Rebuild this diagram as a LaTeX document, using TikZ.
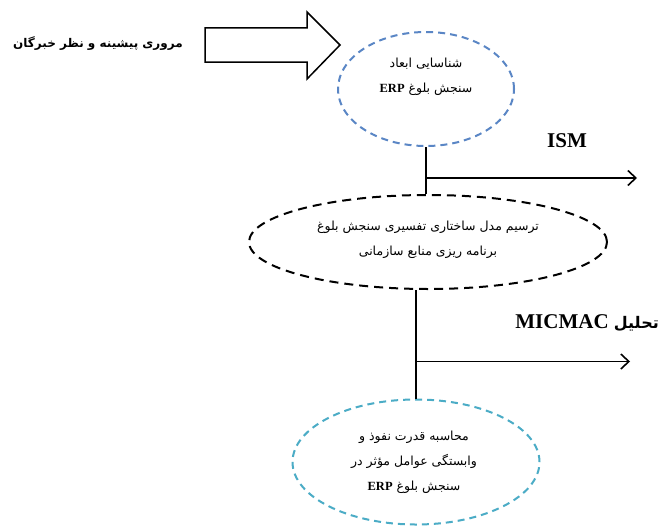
\documentclass[tikz,border=0pt]{standalone}
\usepackage{fontspec}
\setmainfont{Liberation Serif}
\newfontfamily\fa[Script=Arabic]{DejaVu Sans}
\TeXXeTstate=1
\usetikzlibrary{shapes.geometric,arrows.meta}
\definecolor{ellblue}{HTML}{5A86C5}
\definecolor{ellaqua}{HTML}{4BACC6}
\begin{document}
\begin{tikzpicture}[x=1pt,y=-1pt,
  lbl/.style={font=\fa\fontsize{12.5}{25}\selectfont, align=center, inner sep=0pt},
  ell/.style={ellipse, draw, line width=2pt, dash pattern=on 7pt off 5pt, inner sep=0pt},
  conn/.style={line width=1.6pt},
  arr/.style={conn, -{Straight Barb[length=8pt,width=15pt,line width=1.6pt]}},
  big/.style={font=\bfseries\fontsize{21}{23}\selectfont, inner sep=0pt}]
\useasboundingbox (0,0) rectangle (660,527);
\fill[white] (0,0) rectangle (660,527);
% block arrow
\draw[line width=1.5pt, fill=white, line join=miter]
  (205,28) -- (307,28) -- (307,12) -- (340,45) -- (307,79) -- (307,62) -- (205,62) -- cycle;
\node[font=\fa\bfseries\fontsize{12}{14}\selectfont, inner sep=0pt] (src) at (98,44)
  {\beginR مروری پیشینه و نظر خبرگان\endR};
% ellipses
\node[ell, draw=ellblue, minimum width=176pt, minimum height=114pt] (e1) at (426,89) {};
\node[lbl] (t1) at (426,77)
  {\beginR شناسایی ابعاد\endR\\
   \beginR سنجش بلوغ \beginL{\rmfamily\bfseries ERP}\endL\endR};
\node[ell, dash pattern=on 9pt off 6pt, minimum width=358pt, minimum height=94pt] (e2) at (428,242) {};
\node[lbl] (t2) at (428,240)
  {\beginR ترسیم مدل ساختاری تفسیری سنجش بلوغ\endR\\
   \beginR برنامه ریزی منابع سازمانی\endR};
\node[ell, draw=ellaqua, minimum width=247pt, minimum height=125pt] (e3) at (416,462) {};
\node[lbl] (t3) at (414,462)
  {\beginR محاسبه قدرت نفوذ و\endR\\
   \beginR وابستگی عوامل مؤثر در\endR\\
   \beginR سنجش بلوغ \beginL{\rmfamily\bfseries ERP}\endL\endR};
% connectors
\draw[conn] (e1.south) -- (e1.south |- e2.north);
\path (e1.south) ++(0,31) coordinate (j1);
\coordinate (k1) at (637,177);
\draw[arr] (j1) -- (k1 |- j1);
\node[big] (ism) at (567,141) {ISM};
\draw[conn] (e2.south -| e3.north) -- (e3.north);
\path (e3.north) ++(0,-37) coordinate (j2);
\coordinate (k2) at (630,363);
\draw[arr] (j2) -- (k2 |- j2);
\node[big, anchor=east] (mic) at (659,323)
  {\beginR{\fa\bfseries\fontsize{16}{18}\selectfont تحلیل} \beginL MICMAC\endL\endR};
\end{tikzpicture}
\end{document}
